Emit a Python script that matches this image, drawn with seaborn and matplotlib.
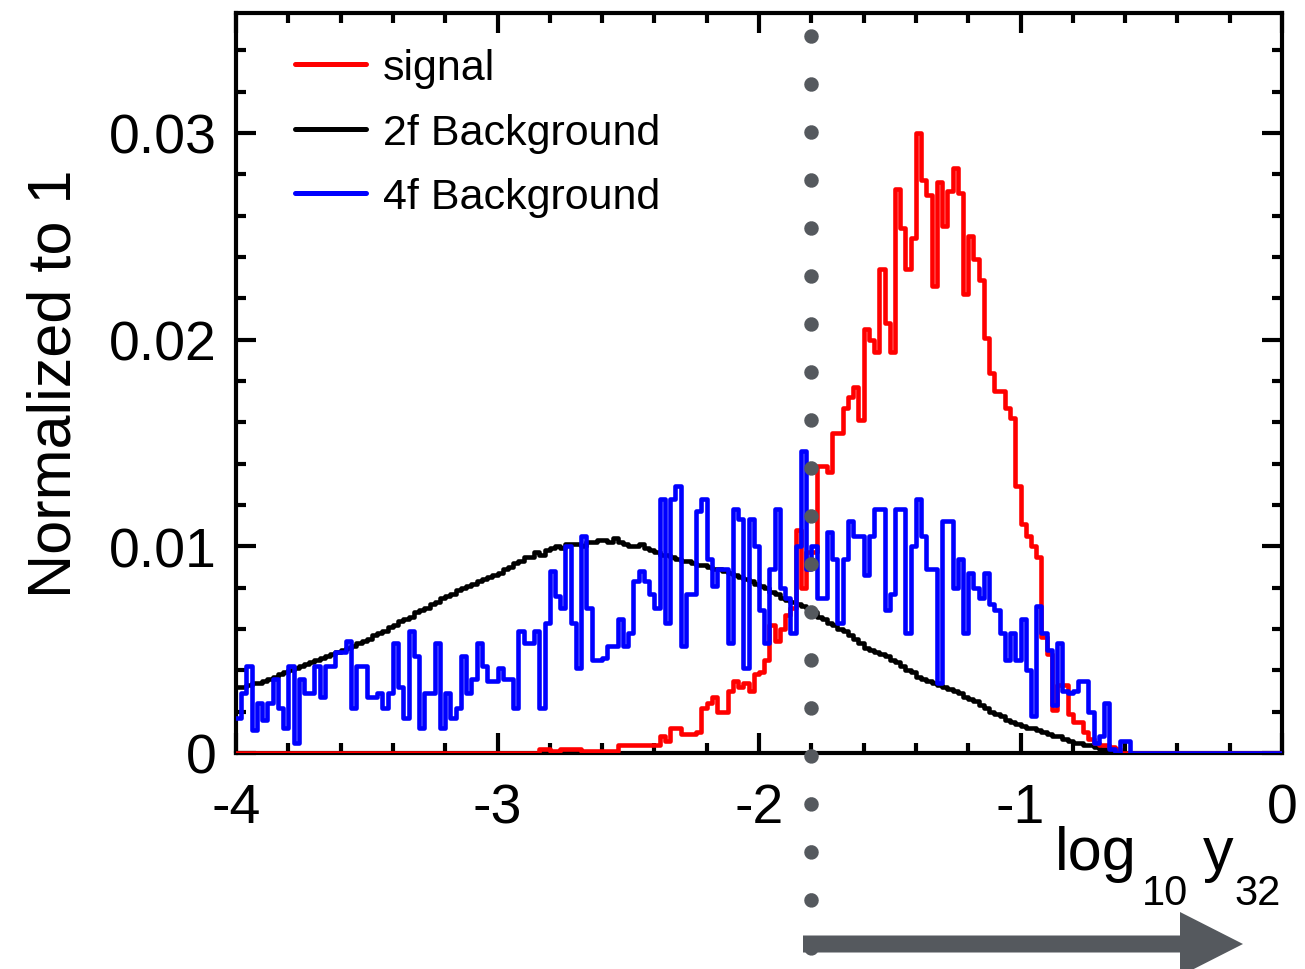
import numpy as np
import pandas as pd
import seaborn as sns
import matplotlib.pyplot as plt
from matplotlib.lines import Line2D
from matplotlib.patches import FancyArrow
from matplotlib.ticker import FixedLocator, MultipleLocator

# 200 bins of width 0.02 between -4 and 0
signal = (
    [0.0] * 58
    + [0.0002, 0.0002, 0.0001, 0.0001, 0.0002, 0.0002, 0.0002, 0.0002,
       0.0001, 0.0001, 0.0001, 0.0001, 0.0001, 0.0001, 0.0001]
    + [0.0004] * 8
    + [0.0008, 0.0006, 0.0012, 0.0012, 0.0009, 0.0009, 0.0009, 0.0010, 0.0022, 0.0024,
       0.0027, 0.0020, 0.0020, 0.0030, 0.0035, 0.0032, 0.0034, 0.0030, 0.0038, 0.0039,
       0.0045, 0.0062, 0.0054, 0.0060, 0.0067, 0.0070, 0.0108, 0.0080, 0.0097, 0.0097,
       0.0139, 0.0139, 0.0136, 0.0155, 0.0155, 0.0167, 0.0172, 0.0177, 0.0161, 0.0205,
       0.0200, 0.0194, 0.0234, 0.0208, 0.0194, 0.0273, 0.0254, 0.0234, 0.0249, 0.0300,
       0.0277, 0.0270, 0.0226, 0.0276, 0.0255, 0.0272, 0.0283, 0.0271, 0.0222, 0.0250,
       0.0239, 0.0229, 0.0201, 0.0184, 0.0175, 0.0175, 0.0167, 0.0162, 0.0129, 0.0111,
       0.0105, 0.0100, 0.0095, 0.0056, 0.0048, 0.0021, 0.0033, 0.0033, 0.0019, 0.0015,
       0.0015, 0.0010, 0.0007, 0.0005, 0.0004, 0.0004, 0.0003, 0.0002]
    + [0.0] * 31
)

bkg_2f = (
    [0.0032, 0.0032, 0.0033, 0.0034, 0.0034, 0.0035, 0.0036, 0.0037, 0.0038, 0.0039,
     0.0040, 0.0041, 0.0042, 0.0043, 0.0044, 0.0045, 0.0046, 0.0047, 0.0048, 0.0049,
     0.0050, 0.0051, 0.0052, 0.0053, 0.0054, 0.0055, 0.0057, 0.0058, 0.0059, 0.0061,
     0.0062, 0.0064, 0.0065, 0.0066, 0.0068, 0.0069, 0.0070, 0.0072, 0.0073, 0.0075,
     0.0076, 0.0077, 0.0079, 0.0080, 0.0081, 0.0082, 0.0083, 0.0084, 0.0085, 0.0086,
     0.0087, 0.0089, 0.0090, 0.0092, 0.0093, 0.0095, 0.0095, 0.0097, 0.0096, 0.0098,
     0.0099, 0.0100, 0.0099, 0.0101, 0.0101, 0.0101, 0.0100, 0.0102, 0.0102, 0.0103,
     0.0103, 0.0102, 0.0104, 0.0102, 0.0101, 0.0100, 0.0100, 0.0101, 0.0099, 0.0098,
     0.0097, 0.0096, 0.0096, 0.0095, 0.0094, 0.0093, 0.0093, 0.0092, 0.0091, 0.0091,
     0.0090, 0.0089, 0.0089, 0.0088, 0.0087, 0.0086, 0.0085, 0.0084, 0.0083, 0.0082,
     0.0081, 0.0080, 0.0078, 0.0077, 0.0075, 0.0074, 0.0073, 0.0072, 0.0071, 0.0070,
     0.0068, 0.0066, 0.0065, 0.0063, 0.0062, 0.0060, 0.0059, 0.0057, 0.0055, 0.0053,
     0.0051, 0.0050, 0.0049, 0.0048, 0.0047, 0.0045, 0.0044, 0.0042, 0.0040, 0.0039,
     0.0037, 0.0036, 0.0035, 0.0034, 0.0033, 0.0032, 0.0031, 0.0030, 0.0029, 0.0027,
     0.0026, 0.0025, 0.0023, 0.0022, 0.0020, 0.0019, 0.0018, 0.0016, 0.0015, 0.0014,
     0.0013, 0.0012, 0.0012, 0.0011, 0.0010, 0.0009, 0.0008, 0.0008, 0.0007, 0.0006,
     0.0005, 0.0005, 0.0004, 0.0004, 0.0003, 0.0002, 0.0002, 0.0001, 0.0001, 0.0]
    + [0.0] * 30
)

bkg_4f = (
    [0.0017, 0.0029, 0.0042, 0.0011, 0.0024, 0.0016, 0.0024, 0.0036, 0.0022, 0.0012,
     0.0042, 0.0005, 0.0036, 0.0029, 0.0029, 0.0042, 0.0027, 0.0042, 0.0042, 0.0049,
     0.0049, 0.0054, 0.0022, 0.0042, 0.0042, 0.0027, 0.0027, 0.0029, 0.0022, 0.0029,
     0.0053, 0.0032, 0.0017, 0.0059, 0.0047, 0.0012, 0.0029, 0.0029, 0.0053, 0.0012,
     0.0029, 0.0017, 0.0022, 0.0047, 0.0029, 0.0036, 0.0053, 0.0042, 0.0035, 0.0035,
     0.0041, 0.0036, 0.0036, 0.0022, 0.0059, 0.0053, 0.0053, 0.0059, 0.0022, 0.0063,
     0.0088, 0.0076, 0.0070, 0.0100, 0.0063, 0.0041, 0.0105, 0.0070, 0.0045, 0.0045,
     0.0046, 0.0052, 0.0052, 0.0065, 0.0052, 0.0058, 0.0083, 0.0088, 0.0083, 0.0077,
     0.0070, 0.0123, 0.0063, 0.0123, 0.0129, 0.0052, 0.0077, 0.0077, 0.0117, 0.0123,
     0.0094, 0.0081, 0.0089, 0.0089, 0.0053, 0.0118, 0.0113, 0.0041, 0.0113, 0.0100,
     0.0069, 0.0053, 0.0089, 0.0118, 0.0080, 0.0075, 0.0058, 0.0100, 0.0146, 0.0089,
     0.0100, 0.0075, 0.0075, 0.0107, 0.0094, 0.0063, 0.0094, 0.0112, 0.0105, 0.0105,
     0.0086, 0.0105, 0.0118, 0.0118, 0.0069, 0.0077, 0.0118, 0.0118, 0.0058, 0.0100,
     0.0123, 0.0105, 0.0089, 0.0089, 0.0034, 0.0112, 0.0112, 0.0080, 0.0094, 0.0058,
     0.0087, 0.0080, 0.0075, 0.0087, 0.0072, 0.0069, 0.0058, 0.0045, 0.0058, 0.0045,
     0.0065, 0.0040, 0.0018, 0.0071, 0.0058, 0.0050, 0.0023, 0.0053, 0.0030, 0.0029,
     0.0030, 0.0035, 0.0035, 0.0020, 0.0005, 0.0008, 0.0024, 0.0002, 0.0, 0.0006,
     0.0006]
    + [0.0] * 29
)

labels = ['signal', '2f Background', '4f Background']
colors = ['#ff0000', '#000000', '#0000ff']
xticks = [-4, -3, -2, -1, 0]
xtick_labels = ['-4', '-3', '-2', '-1', '0']
yticks = [0.0, 0.01, 0.02, 0.03]
ytick_labels = ['0', '0.01', '0.02', '0.03']
cut_value = -1.8

assert len(signal) == len(bkg_2f) == len(bkg_4f) == 200

edges = np.linspace(-4.0, 0.0, 201)
centers = (edges[:-1] + edges[1:]) / 2

df = pd.DataFrame({
    'x': np.tile(centers, 3),
    'w': signal + bkg_2f + bkg_4f,
    'sample': np.repeat(labels, 200),
})

sns.set_theme(style='ticks')
plt.rcParams['font.family'] = ['Liberation Sans', 'DejaVu Sans']
plt.rcParams['axes.unicode_minus'] = False
plt.rcParams['text.color'] = 'black'

fig = plt.figure(figsize=(13.05, 9.7), dpi=100)
ax = fig.add_axes([236 / 1305, 1 - 754 / 970, 1046 / 1305, 740 / 970])

# draw order: 2f at the bottom, then signal, 4f on top
for name, col in [(labels[1], colors[1]), (labels[0], colors[0]), (labels[2], colors[2])]:
    sub = df[df['sample'] == name]
    sns.histplot(data=sub, x='x', weights='w', bins=edges.tolist(), element='step',
                 fill=False, color=col, linewidth=3.3, ax=ax)
# step outlines sit above the frame, so the zero runs show on the bottom spine
for k, art in enumerate(list(ax.lines) + list(ax.collections) + list(ax.patches)):
    art.set_linewidth(3.3)
    art.set_zorder(2.6 + 0.01 * k)

ax.set_xlim(-4, 0)
ax.set_ylim(0, 0.0358)
ax.xaxis.set_major_locator(FixedLocator(xticks))
ax.set_xticklabels(xtick_labels)
ax.xaxis.set_minor_locator(MultipleLocator(0.2))
ax.yaxis.set_major_locator(FixedLocator(yticks))
ax.set_yticklabels(ytick_labels)
ax.yaxis.set_minor_locator(MultipleLocator(0.002))

ax.tick_params(which='both', direction='in', top=True, right=True, width=3,
               color='black', labelcolor='black')
ax.tick_params(which='major', length=14.5, labelsize=40)
ax.tick_params(axis='x', which='major', pad=21)
ax.tick_params(axis='y', which='major', pad=14)
ax.tick_params(which='minor', length=7)
for sp in ax.spines.values():
    sp.set_linewidth(3)
    sp.set_color('black')

ax.set_ylabel('Normalized to 1', fontsize=44, labelpad=18, color='black')
ax.set_xlabel('')

# x-axis title "log10 y32" with deep subscripts, as in the reference
fig.text(1055 / 1305, 1 - 870 / 970, 'log', fontsize=44, ha='left', va='baseline', color='black')
fig.text(1142 / 1305, 1 - 905 / 970, '10', fontsize=30, ha='left', va='baseline', color='black')
fig.text(1203 / 1305, 1 - 870 / 970, 'y', fontsize=44, ha='left', va='baseline', color='black')
fig.text(1234 / 1305, 1 - 905 / 970, '32', fontsize=30, ha='left', va='baseline', color='black')

handles = [Line2D([], [], color=c, lw=3.6) for c in colors]
leg = ax.legend(handles, labels, loc='upper left', bbox_to_anchor=(0.0564, 0.9526),
                frameon=False, fontsize=31, handlelength=1.65, handletextpad=0.4,
                labelspacing=0.57, borderaxespad=0, borderpad=0)
for t in leg.get_texts():
    t.set_color('black')

# dotted cut line and arrow
gray = '#55595e'
ax.plot([cut_value, cut_value], [0.0347, -0.0097], color=gray, lw=10.5,
        linestyle=(0, (0.001, 3.29)), dash_capstyle='round', clip_on=False, zorder=10)
fig.add_artist(FancyArrow(803 / 1305, 1 - 945 / 970, (1243 - 803) / 1305, 0,
                          width=17 / 970, head_width=64 / 970, head_length=63 / 1305,
                          length_includes_head=True, transform=fig.transFigure,
                          color=gray, lw=0))

fig.savefig('out.png', dpi=100)
